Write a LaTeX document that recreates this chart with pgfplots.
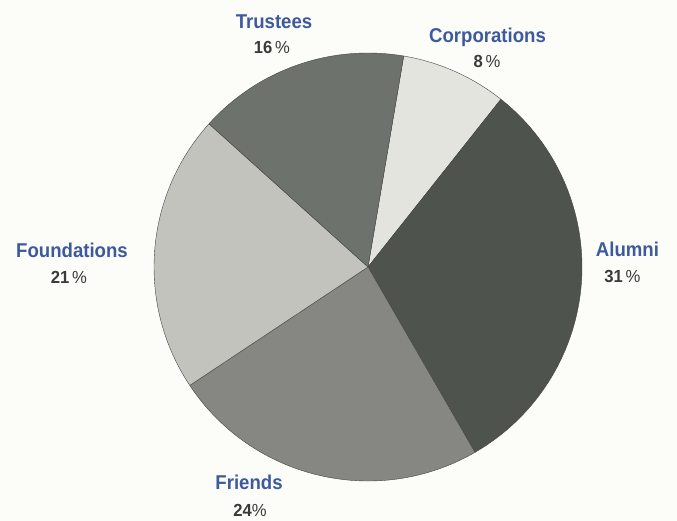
\documentclass[border=0pt]{standalone}
\usepackage{graphicx}
\usepackage{pgfplots}
\pgfplotsset{compat=1.18}
\usepackage{fontspec}
\setmainfont{Liberation Sans}
\definecolor{bgc}{HTML}{FCFCF8}
\definecolor{cCorp}{HTML}{E4E4DE}
\definecolor{cAlum}{HTML}{4F534E}
\definecolor{cFri}{HTML}{868683}
\definecolor{cFound}{HTML}{C3C3BD}
\definecolor{cTrust}{HTML}{6E726C}
\definecolor{lab}{HTML}{3D5A9E}
\definecolor{pc}{HTML}{3A3A3A}
\definecolor{edge}{HTML}{454543}
\newcommand{\lab}[1]{\scalebox{0.93}[1]{\color{lab}\bfseries\fontsize{20}{22}\selectfont #1}}
\newcommand{\pct}[2]{\scalebox{0.95}[1]{\color{pc}\fontsize{17.5}{19}\selectfont\textbf{#1}#2\%}}
\begin{document}
\begin{tikzpicture}
\useasboundingbox (0,0) rectangle (677pt,521pt);
\fill[bgc] (0,0) rectangle (677pt,521pt);
\begin{axis}[x=1pt,y=1pt,xmin=0,xmax=677,ymin=0,ymax=521,hide axis,clip=false,anchor=origin,at={(0,0)}]
\gdef\curang{80.4}
\foreach \p/\col in {8/cCorp,31/cAlum,24/cFri,21/cFound,16/cTrust}{
  \pgfmathsetmacro{\endang}{\curang-3.6*\p}
  \edef\tmp{\noexpand\filldraw[fill=\col,draw=edge,line width=0.4pt,line join=round] (axis cs:368,254) -- ++(\curang:214pt) arc[start angle=\curang,end angle=\endang,radius=214pt] -- cycle;}
  \tmp
  \global\let\curang\endang
}
\node[anchor=base] at (axis cs:274,492) {\lab{Trustees}};
\node[anchor=base] at (axis cs:272,467) {\pct{16}{\,}};
\node[anchor=base] at (axis cs:487.5,478) {\lab{Corporations}};
\node[anchor=base] at (axis cs:487,453) {\pct{8}{\,}};
\node[anchor=base] at (axis cs:72,263) {\lab{Foundations}};
\node[anchor=base] at (axis cs:69,237) {\pct{21}{\,}};
\node[anchor=base] at (axis cs:627.5,264) {\lab{Alumni}};
\node[anchor=base] at (axis cs:622.5,238) {\pct{31}{\,}};
\node[anchor=base] at (axis cs:249,31) {\lab{Friends}};
\node[anchor=base] at (axis cs:250,4) {\pct{24}{}};
\end{axis}
\end{tikzpicture}
\end{document}
